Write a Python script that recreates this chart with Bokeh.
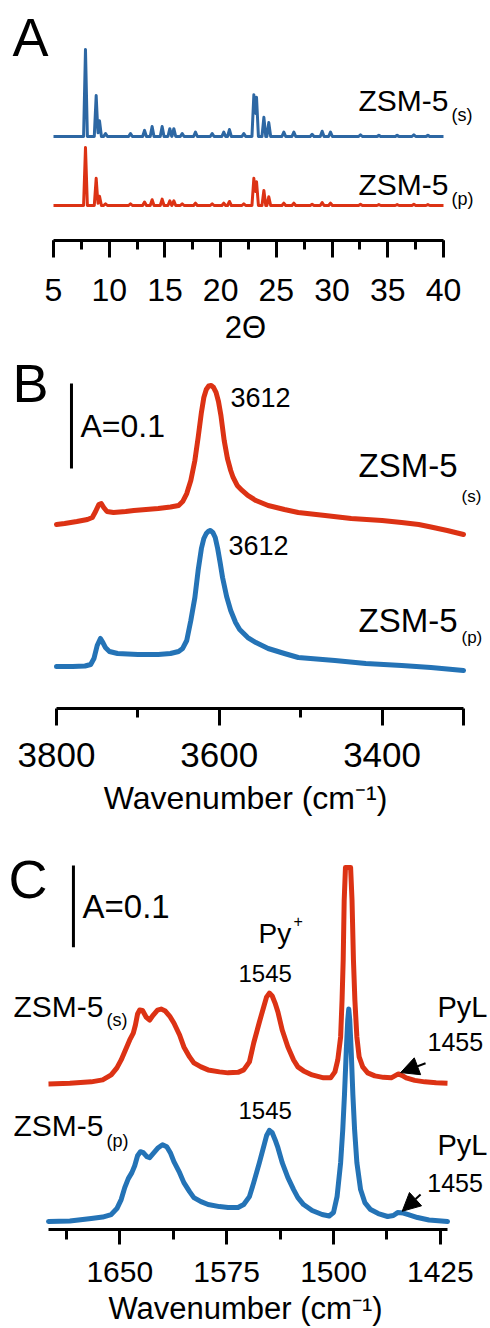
from bokeh.plotting import figure
from bokeh.models import Range1d, Label, Arrow, NormalHead, FixedTicker, SingleIntervalTicker
from bokeh.layouts import column
from bokeh.embed import file_html
from bokeh.resources import INLINE

FONT = "Liberation Sans"
RED = "#dc3214"
BLUE_A = "#2d67a3"
BLUE = "#2473b6"

# ---------------- Panel A: XRD (2-theta, relative intensity) ----------------
xrd_s_pos = [7.87, 8.83, 9.13, 9.67, 11.91, 13.17, 13.85, 14.75, 15.44, 15.8, 16.55, 17.74,
             19.24, 20.28, 20.79, 22.08, 22.98, 23.22, 23.88, 24.32, 25.67, 26.57, 28.21,
             29.11, 29.86, 32.55, 34.2, 35.84, 37.34, 38.6]
xrd_s_int = [100, 47, 18, 3.5, 3.5, 7, 11.5, 11.5, 9, 9, 3.5, 5, 3.5, 5, 8, 3.5, 48, 45, 22,
             16, 5, 5, 2.5, 6, 5, 2, 1.5, 1.5, 2, 1.5]
xrd_p_pos = xrd_s_pos
xrd_p_int = [100, 47, 16, 3, 3, 6, 10, 11, 8, 8, 3, 4, 3, 4, 7, 3, 47, 41, 26, 15, 4, 4, 2,
             5, 4, 2, 1.5, 1.5, 2, 1.5]

# ---------------- Panel B: OH region (wavenumber, absorbance incl. offset) ----------------
oh_s_wn = [3800, 3790, 3775, 3762, 3756, 3752, 3748, 3745, 3742, 3738, 3730, 3715, 3705, 3690,
           3675, 3660, 3650, 3645, 3640, 3635, 3630, 3626, 3622, 3619, 3616, 3613, 3610, 3607,
           3604, 3601, 3598, 3594, 3590, 3586, 3583, 3578, 3572, 3565, 3555, 3540, 3520, 3503,
           3470, 3438, 3400, 3376, 3355, 3340, 3320, 3300]
oh_s_abs = [0.2165, 0.2176, 0.2200, 0.2224, 0.2247, 0.2318, 0.2400, 0.2412, 0.2365, 0.2318,
            0.2306, 0.2318, 0.2329, 0.2341, 0.2353, 0.2371, 0.2388, 0.2435, 0.2529, 0.2682,
            0.2918, 0.3188, 0.3482, 0.3659, 0.3753, 0.3794, 0.3800, 0.3776, 0.3718, 0.3612,
            0.3447, 0.3153, 0.2941, 0.2800, 0.2718, 0.2624, 0.2565, 0.2506, 0.2447, 0.2388,
            0.2341, 0.2306, 0.2271, 0.2235, 0.2212, 0.2188, 0.2165, 0.2135, 0.2094, 0.2047]
oh_p_wn = [3800, 3780, 3765, 3758, 3754, 3750, 3746, 3743, 3740, 3735, 3725, 3700, 3675, 3660,
           3650, 3645, 3640, 3635, 3630, 3626, 3622, 3619, 3616, 3613, 3611, 3608, 3605, 3602,
           3599, 3596, 3591, 3586, 3580, 3575, 3565, 3555, 3540, 3520, 3503, 3458, 3420, 3376,
           3340, 3300]
oh_p_abs = [0.0494, 0.0494, 0.0500, 0.0518, 0.0588, 0.0741, 0.0824, 0.0776, 0.0718, 0.0671,
            0.0647, 0.0635, 0.0635, 0.0647, 0.0671, 0.0706, 0.0800, 0.1035, 0.1306, 0.1624,
            0.1882, 0.2000, 0.2059, 0.2088, 0.2094, 0.2071, 0.2012, 0.1882, 0.1718, 0.1541,
            0.1318, 0.1153, 0.1012, 0.0929, 0.0835, 0.0776, 0.0706, 0.0647, 0.0600, 0.0565,
            0.0529, 0.0506, 0.0482, 0.0447]
oh_ticks = [3800, 3600, 3400, 3300]
oh_minor = [3700, 3500]

# ---------------- Panel C: pyridine region ----------------
py_s_wn = [1700, 1685, 1670, 1662, 1656, 1652, 1649, 1646, 1643, 1640.5, 1639, 1637.5, 1636,
           1634, 1631.5, 1629, 1626.5, 1623.5, 1621, 1618, 1615, 1612, 1608, 1605, 1601, 1598,
           1593, 1588, 1580, 1574, 1567, 1563, 1559, 1556, 1552, 1549, 1547, 1545, 1543, 1541,
           1539, 1536, 1532, 1528, 1525, 1521, 1515, 1507, 1502, 1499, 1497, 1495, 1494.0,
           1493.2, 1492.5, 1491.6, 1488.0, 1487.0, 1486.0, 1485.0, 1483.6, 1482, 1479.5, 1476,
           1471, 1465, 1459.5, 1457, 1454.5, 1452, 1449, 1443, 1436, 1428, 1420]
py_s_abs = [0.1780, 0.1787, 0.1805, 0.1829, 0.1890, 0.1976, 0.2073, 0.2195, 0.2317, 0.2402,
            0.2500, 0.2634, 0.2683, 0.2677, 0.2598, 0.2561, 0.2622, 0.2683, 0.2695, 0.2671,
            0.2610, 0.2524, 0.2378, 0.2232, 0.2110, 0.2037, 0.1988, 0.1951, 0.1927, 0.1915,
            0.1921, 0.1951, 0.2049, 0.2280, 0.2537, 0.2720, 0.2841, 0.2890, 0.2854, 0.2768,
            0.2659, 0.2439, 0.2232, 0.2073, 0.1988, 0.1939, 0.1890, 0.1854, 0.1854, 0.1927,
            0.2073, 0.2354, 0.2805, 0.3293, 0.4024, 0.4427, 0.4427, 0.4024, 0.3293, 0.2805,
            0.2354, 0.2110, 0.1988, 0.1915, 0.1878, 0.1860, 0.1854, 0.1878, 0.1902, 0.1884,
            0.1854, 0.1823, 0.1805, 0.1793, 0.1787]
py_p_wn = [1700, 1685, 1670, 1662, 1656, 1652, 1649, 1646.5, 1644, 1641.5, 1639.5, 1637.5,
           1635.5, 1633.5, 1631, 1629, 1626, 1623, 1620, 1617, 1614.5, 1612, 1608, 1605, 1601,
           1598, 1593, 1588, 1580, 1574, 1567, 1563, 1559, 1556, 1552, 1549, 1547, 1545, 1543,
           1541, 1539, 1536, 1532, 1528, 1525, 1521, 1515, 1508, 1503, 1500, 1497.5, 1495,
           1493.5, 1492.3, 1491, 1490, 1489.3, 1488.6, 1487.6, 1486.4, 1485.2, 1483.6, 1481,
           1478, 1474, 1468.6, 1462, 1458, 1455, 1451, 1447.5, 1441, 1433, 1420]
py_p_abs = [0.0098, 0.0104, 0.0134, 0.0152, 0.0183, 0.0256, 0.0366, 0.0512, 0.0622, 0.0695,
            0.0780, 0.0902, 0.0951, 0.0939, 0.0890, 0.0878, 0.0939, 0.1000, 0.1037, 0.1012,
            0.0939, 0.0829, 0.0695, 0.0573, 0.0463, 0.0390, 0.0341, 0.0305, 0.0280, 0.0268,
            0.0268, 0.0305, 0.0402, 0.0573, 0.0817, 0.1012, 0.1146, 0.1213, 0.1183, 0.1098,
            0.1000, 0.0817, 0.0634, 0.0488, 0.0390, 0.0305, 0.0232, 0.0183, 0.0165, 0.0207,
            0.0402, 0.0817, 0.1220, 0.1646, 0.2195, 0.2561, 0.2695, 0.2561, 0.2195, 0.1646,
            0.1220, 0.0817, 0.0488, 0.0329, 0.0244, 0.0195, 0.0159, 0.0171, 0.0207, 0.0201,
            0.0183, 0.0146, 0.0116, 0.0098]
py_ticks = [1650, 1575, 1500, 1425]
py_minor = [1687.5, 1612.5, 1537.5, 1462.5]


def stick_profile(pos, inten, lo, hi, hw=0.17):
    """Piecewise-linear sum of narrow triangular peaks at the read positions."""
    xs = sorted(set([lo, hi] + [p + d for p in pos for d in (-hw, 0.0, hw)]))
    xs = [x for x in xs if lo <= x <= hi]
    ys = [sum(max(0.0, h * (1 - abs(x - p) / hw)) for p, h in zip(pos, inten)) for x in xs]
    return xs, ys


def make_fig(h, xr, yr, bb):
    p = figure(width=490, height=h, x_range=xr, y_range=yr, output_backend="svg",
               toolbar_location=None, y_axis_location=None,
               min_border_left=0, min_border_right=0, min_border_top=0, min_border_bottom=bb)
    p.grid.visible = False
    p.outline_line_color = None
    p.background_fill_color = "white"
    p.border_fill_color = "white"
    return p


def style_axis(p, size, tick_out, minor_out, standoff, title, title_size, title_standoff, bounds):
    ax = p.xaxis[0]
    ax.bounds = bounds
    ax.axis_line_width = 3
    ax.axis_line_color = "black"
    ax.major_tick_line_width = 3
    ax.minor_tick_line_width = 3
    ax.major_tick_line_color = "black"
    ax.minor_tick_line_color = "black"
    ax.major_tick_in = 0
    ax.minor_tick_in = 0
    ax.major_tick_out = tick_out
    ax.minor_tick_out = minor_out
    ax.major_label_text_font = FONT
    ax.major_label_text_font_size = f"{size}px"
    ax.major_label_text_color = "black"
    ax.major_label_standoff = standoff
    ax.axis_label = title
    ax.axis_label_text_font = FONT
    ax.axis_label_text_font_size = f"{title_size}px"
    ax.axis_label_text_font_style = "normal"
    ax.axis_label_text_color = "black"
    ax.axis_label_standoff = title_standoff


def txt(p, x, y_base, s, size, pxy, align="left"):
    # y_base is the text baseline in data units; the label is anchored at its middle
    p.add_layout(Label(x=x, y=y_base + 0.35 * size / pxy, text=s, text_font=FONT,
                       text_font_size=f"{size}px", text_align=align, text_baseline="middle",
                       text_color="black"))


def arrow(p, x0, y0, x1, y1):
    p.add_layout(Arrow(end=NormalHead(size=18, fill_color="black", line_color="black", line_width=1),
                       x_start=x0, y_start=y0, x_end=x1, y_end=y1,
                       line_color="black", line_width=2))


# ---------------- Figure A ----------------
pxA = 390 / 35
pA = make_fig(348, Range1d(5 - 53 / pxA, 40 + 47 / pxA), Range1d(0, 120), 108)
xs_s, ys_s = stick_profile(xrd_s_pos, xrd_s_int, 5, 40)
xs_p, ys_p = stick_profile(xrd_p_pos, xrd_p_int, 5, 40)
pA.line(xs_s, [52 + 0.435 * v for v in ys_s], line_color=BLUE_A, line_width=3, line_join="round")
pA.line(xs_p, [17.5 + 0.29 * v for v in ys_p], line_color=RED, line_width=3, line_join="round")
pA.xaxis[0].ticker = SingleIntervalTicker(interval=5, num_minor_ticks=2)
style_axis(pA, 32, 17, 9, 21, "2Θ", 31, 6, (5, 40))
txt(pA, 1.32, 92.5, "A", 54, 2)
txt(pA, 32.37, 65, "ZSM-5", 30, 2)
txt(pA, 40.72, 59.5, "(s)", 18, 2)
txt(pA, 32.37, 22.75, "ZSM-5", 30, 2)
txt(pA, 40.72, 17.5, "(p)", 18, 2)

# ---------------- Figure B ----------------
pxB = 407 / 500
pB = make_fig(480, Range1d(3800 + 56 / pxB, 3300 - 27 / pxB), Range1d(0, 360 / 850), 120)
pB.line(oh_p_wn, oh_p_abs, line_color=BLUE, line_width=5, line_join="round", line_cap="round")
pB.line(oh_s_wn, oh_s_abs, line_color=RED, line_width=5, line_join="round", line_cap="round")
pB.xaxis[0].ticker = FixedTicker(ticks=oh_ticks, minor_ticks=oh_minor)
pB.xaxis[0].major_label_overrides = {3300: ""}
style_axis(pB, 35, 17, 9, 17, "Wavenumber (cm\u207b\u00b9)", 32, 10, (3300, 3800))
pB.segment(x0=[3781.6], y0=[0.2824], x1=[3781.6], y1=[0.3824], line_color="black", line_width=3)
txt(pB, 3854.0, 0.361, "B", 54, 850)
txt(pB, 3770.5, 0.3192, "A=0.1", 32, 850)
txt(pB, 3586.2, 0.3545, "3612", 27, 850)
txt(pB, 3588.7, 0.1808, "3612", 27, 850)
txt(pB, 3429.0, 0.2722, "ZSM-5", 33, 850)
txt(pB, 3302.5, 0.2427, "(s)", 17, 850)
txt(pB, 3429.0, 0.0898, "ZSM-5", 33, 850)
txt(pB, 3302.5, 0.0765, "(p)", 17, 850)

# ---------------- Figure C ----------------
pxC = 399 / 280
pC = make_fig(500, Range1d(1700 + 48 / pxC, 1420 - 43 / pxC), Range1d(0, 402 / 820), 98)
pC.line(py_p_wn, py_p_abs, line_color=BLUE, line_width=5, line_join="round", line_cap="round")
pC.line(py_s_wn, py_s_abs, line_color=RED, line_width=5, line_join="round", line_cap="butt")
pC.xaxis[0].ticker = FixedTicker(ticks=py_ticks, minor_ticks=py_minor)
style_axis(pC, 30, 15, 10, 17, "Wavenumber (cm\u207b\u00b9)", 31, 6, (1420, 1700))
pC.segment(x0=[1682.5], y0=[0.3451], x1=[1682.5], y1=[0.4451], line_color="black", line_width=3)
txt(pC, 1728.1, 0.4049, "C", 54, 820)
txt(pC, 1676.1, 0.3805, "A=0.1", 33, 820)
txt(pC, 1552.6, 0.3496, "Py", 28, 820)
txt(pC, 1528.1, 0.37, "+", 16, 820)
txt(pC, 1566.7, 0.3028, "1545", 24, 820)
txt(pC, 1724.6, 0.2594, "ZSM-5", 30, 820)
txt(pC, 1659.3, 0.2479, "(s)", 18, 820)
txt(pC, 1427.0, 0.2602, "PyL", 29, 820)
txt(pC, 1434.0, 0.2187, "1455", 25, 820)
txt(pC, 1724.6, 0.1138, "ZSM-5", 30, 820)
txt(pC, 1659.3, 0.1008, "(p)", 18, 820)
txt(pC, 1566.7, 0.135, "1545", 24, 820)
txt(pC, 1427.0, 0.0915, "PyL", 29, 820)
txt(pC, 1434.2, 0.0467, "1455", 25, 820)
arrow(pC, 1435.4, 0.2033, 1452.9, 0.1918)
arrow(pC, 1438.9, 0.0427, 1451.8, 0.0223)

layout = column(pA, pB, pC, spacing=0)
open("out.html", "w").write(file_html(layout, INLINE))
